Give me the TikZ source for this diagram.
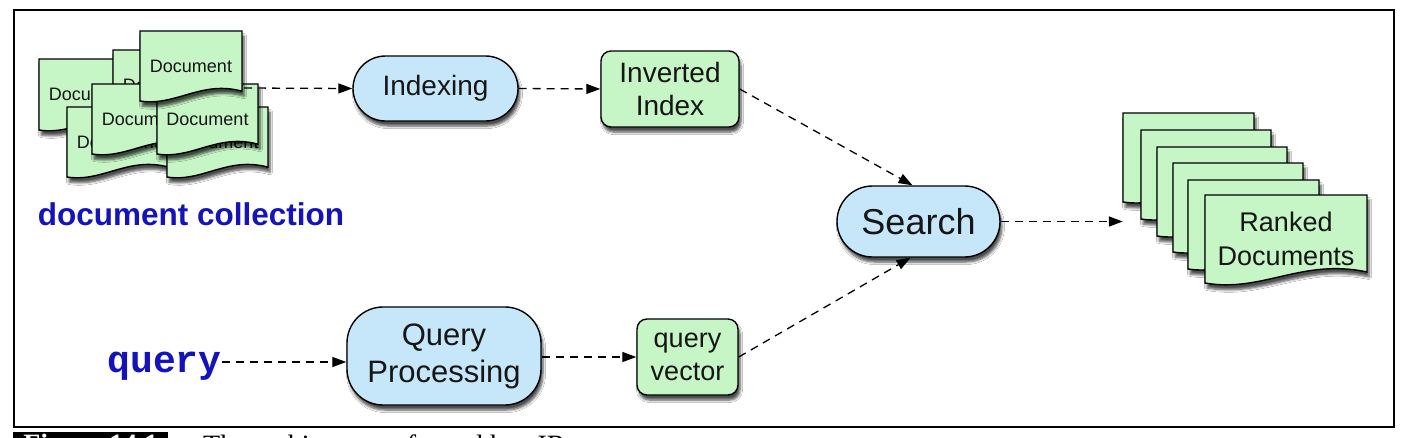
\documentclass[tikz,border=0pt]{standalone}
\usepackage{fontspec}
\setmainfont{Liberation Sans}
\newfontfamily\capfont{Liberation Serif}
\newfontfamily\qmono{Liberation Mono}
\usetikzlibrary{arrows.meta,shadows.blur,shapes.misc}

\definecolor{pillblue}{RGB}{198,230,250}
\definecolor{docgreen}{RGB}{198,245,198}
\definecolor{labelblue}{RGB}{18,18,196}
\definecolor{inkdark}{RGB}{22,22,22}

\tikzset{
  softshade/.style={blur shadow={shadow xshift=2pt, shadow yshift=-5pt,
      shadow blur steps=6, shadow blur radius=2.5pt, shadow opacity=70}},
  pill/.style={rounded rectangle, draw=black, line width=1.4pt, fill=pillblue,
      softshade, text=inkdark, inner sep=0pt},
  roundbox/.style={rectangle, draw=black, line width=1.4pt, fill=docgreen,
      softshade, text=inkdark, inner sep=0pt, align=center},
  docfill/.style={draw=black, line width=1.4pt, fill=docgreen, softshade},
  doctext/.style={inner sep=0pt, text=inkdark, align=center},
  conn/.style={draw=black, line width=1.3pt, dash pattern=on 8pt off 6pt,
      -{Triangle[length=14pt,width=10pt]}},
}

% name, x, y, w, h, font size, text
\newcommand\docpage[7]{%
  \path[docfill] (#2,#3) -- ({#2+#4},#3) -- ({#2+#4},{#3+0.86*#5})
     .. controls ({#2+0.6*#4},{#3+0.70*#5}) and ({#2+0.35*#4},{#3+1.08*#5}) ..
     (#2,{#3+#5}) -- cycle;
  \node[doctext, minimum width=#4 pt, minimum height=#5 pt,
        font=\fontsize{#6}{#6}\selectfont] (#1) at ({#2+0.5*#4},{#3+0.5*#5}) {#7};
}

\begin{document}
\begin{tikzpicture}[x=1pt,y=-1pt]
\useasboundingbox (0,0) rectangle (1403,437);
\clip (0,0) rectangle (1403,437);
\fill[white] (0,0) rectangle (1403,437);

% frame
\draw[line width=2pt] (14,10) rectangle (1394,427);

% document collection
\docpage{docA}{39}{59}{102}{71}{18}{Document}
\docpage{docB}{113}{50}{102}{70}{18}{Document}
\docpage{docD}{67}{107}{102}{70}{18}{Document}
\docpage{docE}{167}{107}{101}{70}{18}{Document}
\docpage{docF}{92}{84}{102}{70}{18}{Document}
\docpage{docG}{157}{84}{101}{70}{18}{Document}
\docpage{docC}{140}{31}{102}{70}{18}{Document}

\node[inner sep=0pt, text=labelblue, font=\bfseries\fontsize{31.5}{34}\selectfont]
  (collabel) at (191,214) {document collection};

% query label
\node[inner sep=0pt, text depth=0pt, text=labelblue, font=\qmono\bfseries\fontsize{38}{40}\selectfont]
  (q) at (164.5,362) {query};

% process nodes
\node[pill, minimum width=165pt, minimum height=65pt, font=\fontsize{28}{33}\selectfont]
  (idx) at (435.5,88.5) {Indexing};
\node[roundbox, rounded corners=10pt, minimum width=138pt, minimum height=76pt,
      font=\fontsize{28}{33}\selectfont]
  (inv) at (670,89) {Inverted\\Index};
\node[pill, minimum width=163pt, minimum height=71pt, font=\fontsize{36}{40}\selectfont]
  (srch) at (918.5,221.5) {Search};
\node[rectangle, rounded corners=36pt, draw=black, line width=1.4pt, fill=pillblue,
      softshade, text=inkdark, inner sep=0pt, align=center,
      minimum width=194pt, minimum height=98pt, font=\fontsize{31}{37}\selectfont]
  (qp) at (444,356) {Query\\Processing};
\node[roundbox, rounded corners=10pt, minimum width=101pt, minimum height=76pt,
      font=\fontsize{27}{33}\selectfont]
  (qv) at (687.5,357) {query\\vector};

% ranked documents
\docpage{rk1}{1123}{113}{131}{89}{27}{}
\docpage{rk2}{1141}{130}{130}{89}{27}{}
\docpage{rk3}{1157}{147}{130}{89}{27}{}
\docpage{rk4}{1173}{163}{130}{89}{27}{}
\docpage{rk5}{1188}{180}{131}{89}{27}{}
\path[docfill] (1205,195) -- (1367,195) -- (1367,272)
   .. controls (1302,258) and (1262,293) .. (1205,283) -- cycle;
\node[doctext, minimum width=162pt, minimum height=88pt,
      font=\fontsize{27}{34}\selectfont] (rk6) at (1286,239) {Ranked\\Documents};

% connectors
\coordinate (clout) at (244,88);
\draw[conn] (clout) -- (idx.west);
\draw[conn] (idx.east) -- (inv.west);
\draw[conn] (inv.east) -- ([xshift=-6pt]srch.north);
\draw[conn] (q.east) -- (q.east -| qp.west);
\draw[conn] (qp.east |- qv.west) -- (qv.west);
\draw[conn] (qv.east) -- ([xshift=-8pt]srch.south);
\draw[conn] (srch.east) -- (srch.east -| rk1.west);

% caption (cut off at the bottom edge)
\node[fill=black, text=white, anchor=north west, inner sep=0pt,
      minimum width=155pt, minimum height=30pt,
      font=\capfont\bfseries\fontsize{28}{30}\selectfont] (figlab) at (13,432) {Figure 14.1};
\node[anchor=north west, inner sep=0pt, minimum height=30pt, text=black,
      font=\capfont\fontsize{28}{30}\selectfont] (figcap) at (203,432)
      {The architecture of an ad hoc IR system};
\end{tikzpicture}
\end{document}
